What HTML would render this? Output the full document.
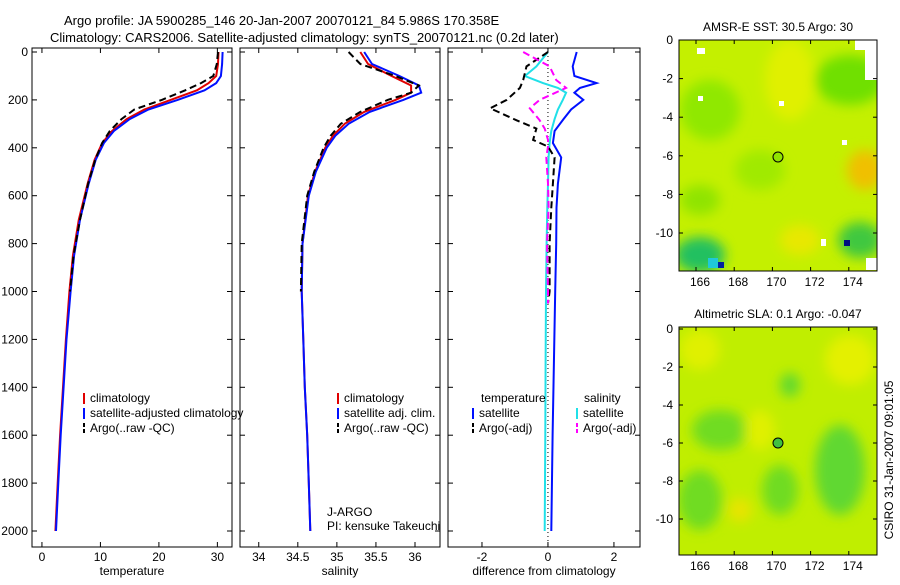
<!DOCTYPE html>
<html><head><meta charset="utf-8"><style>
body{margin:0;background:#fff}
svg{font-family:"Liberation Sans",sans-serif;font-size:12px}
</style></head><body>
<svg id="fig" width="900" height="580" viewBox="0 0 900 580">
<defs>
<filter id="blur" x="-20%" y="-20%" width="140%" height="140%"><feGaussianBlur stdDeviation="6"/></filter>
<clipPath id="cm1"><rect x="679" y="40" width="198" height="231"/></clipPath>
<clipPath id="cm2"><rect x="679" y="327" width="198" height="228"/></clipPath>
</defs>
<text x="64" y="25" font-size="13">Argo profile: JA 5900285_146 20-Jan-2007 20070121_84 5.986S 170.358E</text>
<text x="50" y="42" font-size="13">Climatology: CARS2006. Satellite-adjusted climatology: synTS_20070121.nc (0.2d later)</text>
<g id="plots"></g>
<!-- map 1 -->
<g>
<g clip-path="url(#cm1)">
<rect x="679" y="40" width="198" height="231" fill="#c4f000"/>
<g filter="url(#blur)">
<ellipse cx="710" cy="110" rx="30" ry="30" fill="#90e800"/>
<ellipse cx="850" cy="80" rx="35" ry="25" fill="#70e000"/>
<ellipse cx="760" cy="170" rx="25" ry="20" fill="#a0ea00"/>
<ellipse cx="790" cy="80" rx="25" ry="40" fill="#e0f000"/>
<ellipse cx="865" cy="170" rx="18" ry="20" fill="#f0c000"/>
<ellipse cx="700" cy="255" rx="25" ry="18" fill="#20c060"/>
<ellipse cx="860" cy="240" rx="22" ry="18" fill="#40c840"/>
<ellipse cx="700" cy="200" rx="20" ry="15" fill="#90e400"/>
<ellipse cx="800" cy="240" rx="20" ry="15" fill="#e8e800"/>
</g>
<rect x="708" y="258" width="10" height="10" fill="#20c8d8"/>
<rect x="718" y="262" width="6" height="6" fill="#0020a0"/>
<rect x="844" y="240" width="6" height="6" fill="#001080"/>
<rect x="855" y="40" width="22" height="10" fill="#fff"/>
<rect x="865" y="45" width="12" height="35" fill="#fff"/>
<rect x="866" y="258" width="11" height="12" fill="#fff"/>
<rect x="697" y="48" width="8" height="6" fill="#fff"/><rect x="698" y="96" width="5" height="5" fill="#fff"/><rect x="779" y="101" width="5" height="5" fill="#fff"/>
<rect x="821" y="239" width="5" height="7" fill="#fff"/><rect x="842" y="140" width="5" height="5" fill="#fff"/>
</g>
<rect x="679" y="40" width="198" height="231" fill="none" stroke="#000"/>
<circle cx="778" cy="157" r="5" fill="#90e400" stroke="#000"/>
<text x="778" y="31" text-anchor="middle">AMSR-E SST: 30.5 Argo: 30</text>
</g>
<!-- map 2 -->
<g>
<g clip-path="url(#cm2)">
<rect x="679" y="327" width="198" height="228" fill="#c0ee00"/>
<g filter="url(#blur)">
<ellipse cx="700" cy="350" rx="20" ry="20" fill="#e0f000"/>
<ellipse cx="850" cy="360" rx="25" ry="25" fill="#e4f000"/>
<ellipse cx="720" cy="430" rx="28" ry="20" fill="#70dc20"/>
<ellipse cx="790" cy="385" rx="10" ry="12" fill="#60d830"/>
<ellipse cx="840" cy="470" rx="25" ry="45" fill="#60d830"/>
<ellipse cx="780" cy="490" rx="18" ry="25" fill="#70dc20"/>
<ellipse cx="700" cy="500" rx="22" ry="30" fill="#70dc20"/>
<ellipse cx="740" cy="510" rx="12" ry="12" fill="#e8e400"/>
<ellipse cx="760" cy="430" rx="15" ry="20" fill="#e0f000"/>
</g>
</g>
<rect x="679" y="327" width="198" height="228" fill="none" stroke="#000"/>
<circle cx="778" cy="443" r="5" fill="#40c040" stroke="#000"/>
<text x="778" y="318" text-anchor="middle">Altimetric SLA: 0.1 Argo: -0.047</text>
</g>
<text transform="translate(893,460) rotate(-90)" text-anchor="middle">CSIRO 31-Jan-2007 09:01:05</text>
<text x="327" y="516">J-ARGO</text>
<text x="327" y="530">PI: kensuke Takeuchi</text>
<g id="maps-axes"></g>
</svg>
<script>
// shared depth axis (m)
const depthTicks=[0,200,400,600,800,1000,1200,1400,1600,1800,2000];
const tempTicks=[0,10,20,30];
const salTicks=[34,34.5,35,35.5,36];
const diffTicks=[-2,0,2];
// temperature profiles
const tDepth=[0,50,100,130,160,200,240,280,330,380,450,550,700,850,1000,1200,1400,1600,1800,2000];
const tClim=[30.2,30.1,29.8,28.5,26.5,22,17.5,14.5,12,10.3,9,7.8,6.3,5.3,4.7,4.1,3.6,3.1,2.7,2.3];
const tSat=[30.9,30.8,30.6,29.8,27.8,23.2,18.2,15,12.3,10.6,9.2,8,6.5,5.5,4.9,4.2,3.7,3.2,2.8,2.4];
const tArgoDepth=[0,50,100,130,160,200,240,280,330,380,450,550,700,850,1000];
const tArgo=[30.1,29.9,29.3,27.2,24.5,20.5,15.8,13.6,11.6,10.3,9.1,7.9,6.5,5.4,4.8];
// salinity profiles
const sDepth=[0,50,100,140,170,200,250,300,350,400,500,600,800,1000,1200,1400,1600,1800,2000];
const sClim=[35.3,35.4,35.7,35.95,35.95,35.75,35.35,35.1,34.95,34.85,34.72,34.63,34.56,34.55,34.57,34.59,34.62,34.64,34.66];
const sSat=[35.35,35.45,35.8,36.05,36.08,35.85,35.42,35.15,34.98,34.87,34.73,34.64,34.56,34.55,34.57,34.59,34.62,34.64,34.66];
const sArgoDepth=[0,50,100,140,170,200,250,300,350,400,500,600,800,1000];
const sArgo=[35.15,35.3,35.75,36.05,35.95,35.65,35.3,35.05,34.92,34.83,34.71,34.62,34.55,34.54];
// difference profiles
const dDepth=[0,60,100,130,150,170,200,240,280,330,380,440,550,650,800,1000,1300,1600,2000];
const dTempSat=[0.87,0.75,0.8,1.47,0.97,0.8,1.07,0.7,0.47,0.2,0.15,0.4,0.3,0.26,0.25,0.22,0.18,0.14,0.1];
const dSalSat=[0,-0.35,-0.7,-0.15,0.3,0.55,0.45,0.3,0.2,0.1,0.05,0.02,0,-0.02,-0.04,-0.06,-0.07,-0.08,-0.1];
const dArgoDepth=[0,60,117,150,200,235,285,320,367,395,440,550,650,800,1000,1050];
const dTempArgo=[0,-0.65,-0.75,-0.85,-1.25,-1.75,-0.95,-0.35,-0.45,0,0.2,0.15,0.1,0.05,0.05,0];
const dSalArgo=[-0.75,0.05,0.25,0.55,-0.25,-0.55,-0.25,-0.1,0,0,-0.05,0,0.02,-0.03,0,0];
// map axes
const lonTicks=[166,168,170,172,174];
const latTicks=[0,-2,-4,-6,-8,-10];

const NS='http://www.w3.org/2000/svg';
const root=document.getElementById('plots');
function mk(tag,at,parent){const e=document.createElementNS(NS,tag);for(const k in at)e.setAttribute(k,at[k]);(parent||root).appendChild(e);return e;}
const yD=d=>52+d*0.2395;
const panels=[
 {x0:32,x1:232,lo:-1.7,hi:32.5,ticks:tempTicks,label:'temperature',name:'temperature-panel'},
 {x0:240,x1:440,lo:33.76,hi:36.32,ticks:salTicks,label:'salinity',name:'salinity-panel'},
 {x0:448,x1:640,lo:-3.03,hi:2.79,ticks:diffTicks,label:'difference from climatology',name:'difference-panel'}
];
panels.forEach(p=>{p.sx=v=>p.x0+(v-p.lo)/(p.hi-p.lo)*(p.x1-p.x0);});
panels.forEach((p,i)=>{
 const g=mk('g',{});
 
 
 p.g=g;
 mk('rect',{x:p.x0,y:48,width:p.x1-p.x0,height:499,fill:'none',stroke:'#000'},g);
 p.ticks.forEach(t=>{const x=p.sx(t);
  mk('line',{x1:x,x2:x,y1:547,y2:542,stroke:'#000'},g);mk('line',{x1:x,x2:x,y1:48,y2:53,stroke:'#000'},g);
  const tx=mk('text',{x:x,y:561,'text-anchor':'middle'},g);tx.textContent=t;
  
  });
 depthTicks.forEach(d=>{const y=yD(d);
  mk('line',{x1:p.x0,x2:p.x0+5,y1:y,y2:y,stroke:'#000'},g);mk('line',{x1:p.x1,x2:p.x1-5,y1:y,y2:y,stroke:'#000'},g);
  if(i===0){const tx=mk('text',{x:28,y:y+4,'text-anchor':'end'},g);tx.textContent=d;
   
   }});
 const lb=mk('text',{x:(p.x0+p.x1)/2,y:575,'text-anchor':'middle'},g);lb.textContent=p.label;
 
 
});
function line(p,xs,ds,color,dash,name,w){
 const pts=xs.map((v,k)=>p.sx(v).toFixed(1)+','+yD(ds[k]).toFixed(1)).join(' ');
 const e=mk('polyline',{points:pts,fill:'none',stroke:color,'stroke-width':w||2,'stroke-dasharray':dash||'none'},p.g);
 
 
}
const [P1,P2,P3]=panels;
mk('line',{x1:P3.sx(0),x2:P3.sx(0),y1:48,y2:547,stroke:'#000','stroke-dasharray':'1,3'},P3.g);
line(P1,tClim,tDepth,'#e00000',null,'temp-climatology-line');
line(P1,tSat,tDepth,'#0010ff',null,'temp-satellite-line');
line(P1,tArgo,tArgoDepth,'#000',"7,4",'temp-argo-line');
line(P2,sClim,sDepth,'#e00000',null,'sal-climatology-line');
line(P2,sSat,sDepth,'#0010ff',null,'sal-satellite-line');
line(P2,sArgo,sArgoDepth,'#000',"7,4",'sal-argo-line');
line(P3,dTempSat,dDepth,'#0010ff',null,'diff-temp-satellite-line');
line(P3,dSalSat,dDepth,'#20e0e8',null,'diff-sal-satellite-line');
line(P3,dTempArgo,dArgoDepth,'#000',"7,4",'diff-temp-argo-line');
line(P3,dSalArgo,dArgoDepth,'#ff00ff',"7,4",'diff-sal-argo-line');
function legend(g,x,y,color,dash,text,name){
 mk('line',{x1:x,x2:x,y1:y-9,y2:y+2,stroke:color,'stroke-width':2,'stroke-dasharray':dash||'none'},g);
 if(text){const t=mk('text',{x:x+6,y:y},g);t.textContent=text;}
 const e=g.lastChild;
 
 
}
legend(P1.g,84,402,'#e00000',null,'climatology','legend-climatology');
legend(P1.g,84,417,'#0010ff',null,'satellite-adjusted climatology','legend-satellite-adjusted');
legend(P1.g,84,432,'#000','4,2','Argo(..raw -QC)','legend-argo');
legend(P2.g,338,402,'#e00000',null,'climatology','legend-climatology');
legend(P2.g,338,417,'#0010ff',null,'satellite adj. clim.','legend-satellite-adj');
legend(P2.g,338,432,'#000','4,2','Argo(..raw -QC)','legend-argo');
const lt=mk('text',{x:481,y:402},P3.g);lt.textContent='temperature';
const ls=mk('text',{x:584,y:402},P3.g);ls.textContent='salinity';
legend(P3.g,473,417,'#0010ff',null,'satellite','legend-temp-satellite');
legend(P3.g,473,432,'#000','4,2','Argo(-adj)','legend-temp-argo');
legend(P3.g,577,417,'#20e0e8',null,'satellite','legend-sal-satellite');
legend(P3.g,577,432,'#ff00ff','4,2','Argo(-adj)','legend-sal-argo');
// map axes
const ma=document.getElementById('maps-axes');
const lonX=l=>696+(l-166)*19.1;
[[40,271,40,19.3],[327,555,329,19.0]].forEach(([yt,yb,y0,sc],mi)=>{
 lonTicks.forEach(l=>{const x=lonX(l);
  mk('line',{x1:x,x2:x,y1:yb,y2:yb-4,stroke:'#000'},ma);mk('line',{x1:x,x2:x,y1:yt,y2:yt+4,stroke:'#000'},ma);
  const t=mk('text',{x:x+4,y:yb+15,'text-anchor':'middle'},ma);t.textContent=l;
  
  });
 latTicks.forEach(la=>{const y=y0-la*sc; if(y>yb)return;
  mk('line',{x1:679,x2:683,y1:y,y2:y,stroke:'#000'},ma);mk('line',{x1:877,x2:873,y1:y,y2:y,stroke:'#000'},ma);
  const t=mk('text',{x:673,y:y+4,'text-anchor':'end'},ma);t.textContent=la;
  
  });
});
</script>
</body></html>
